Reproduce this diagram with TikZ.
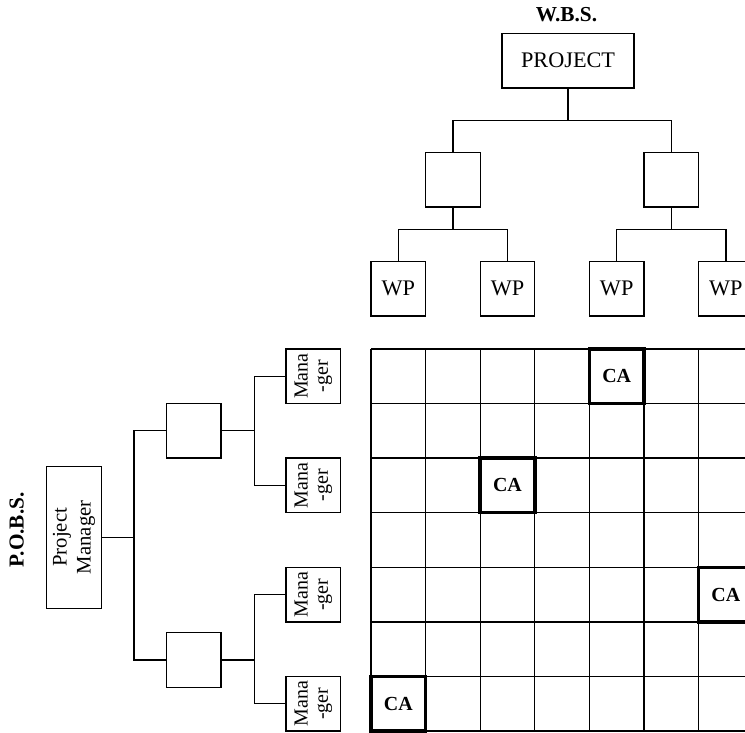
\documentclass[tikz,border=0pt]{standalone}
\usepackage{fontspec}
\setmainfont{Liberation Serif}
\usetikzlibrary{positioning,calc}
\tikzset{
  orgbox/.style={draw, line width=0.7pt, minimum width=1cm, minimum height=1cm,
    inner sep=0pt, align=center, font=\fontsize{10.4}{10.5}\selectfont},
  wbsbox/.style={orgbox, font=\fontsize{11.6}{13}\selectfont},
  rotbox/.style={orgbox, rotate=90},
  cabox/.style={draw, line width=1.8pt, minimum size=1cm, inner sep=0pt,
    font=\fontsize{10.4}{11}\selectfont\bfseries},
  conn/.style={line width=0.7pt},
  bstitle/.style={font=\fontsize{11.1}{12}\selectfont\bfseries},
}

\begin{document}
\begin{tikzpicture}
  \useasboundingbox (-6.795,-7.03) rectangle (6.85,6.39);
  \clip (-6.795,-7.03) rectangle (6.85,6.39);

  % responsibility matrix
  \draw[conn] (0,-7) grid (7.5,0);
  \foreach \c/\r [count=\i] in {4/0,2/2,6/4,0/6}
    \node[cabox] (ca\i) at (\c+0.5,-\r-0.5) {CA};

  % W.B.S.
  \node[bstitle] (wbs) at (3.58,6.12) {W.B.S.};
  \node[wbsbox, minimum width=2.42cm] (proj) at (3.61,5.28) {PROJECT};
  \node[orgbox] (wbsA) at (1.5,3.1) {};
  \node[orgbox] (wbsB) at (5.5,3.1) {};
  \foreach \c [count=\i] in {0,2,4,6}
    \node[wbsbox] (wp\i) at (\c+0.5,1.1) {WP};

  \coordinate[below=0.59cm of proj] (wbsJ);
  \coordinate[below=0.4cm of wbsA] (wbsJA);
  \coordinate[below=0.4cm of wbsB] (wbsJB);
  \draw[conn] (proj) -- (wbsJ);
  \draw[conn] (wbsA) |- (wbsJ) -| (wbsB);
  \draw[conn] (wbsA) -- (wbsJA);
  \draw[conn] (wp1) |- (wbsJA) -| (wp2);
  \draw[conn] (wbsB) -- (wbsJB);
  \draw[conn] (wp3) |- (wbsJB) -| (wp4);

  % P.O.B.S.
  \node[bstitle, rotate=90] (pobs) at (-6.49,-3.315) {P.O.B.S.};
  \node[rotbox, minimum width=2.6cm, font=\fontsize{10.8}{12.5}\selectfont]
    (pm) at (-5.44,-3.45) {Project\\Manager};
  \node[orgbox] (obsA) at (-3.25,-1.5) {};
  \node[orgbox] (obsB) at (-3.25,-5.7) {};
  \foreach \r [count=\i] in {0,2,4,6}
    \node[rotbox] (mgr\i) at (-1.056,-\r-0.5) {Mana\\-ger};

  \coordinate (obsJ) at (-4.34,-3.45);
  \coordinate[right=0.6cm of obsA] (obsJA);
  \coordinate[right=0.6cm of obsB] (obsJB);
  \draw[conn] (pm) -- (obsJ);
  \draw[conn] (obsA) -| (obsJ) |- (obsB);
  \draw[conn] (obsA) -- (obsJA);
  \draw[conn] (mgr1) -| (obsJA) |- (mgr2);
  \draw[conn] (obsB) -- (obsJB);
  \draw[conn] (mgr3) -| (obsJB) |- (mgr4);
\end{tikzpicture}
\end{document}
